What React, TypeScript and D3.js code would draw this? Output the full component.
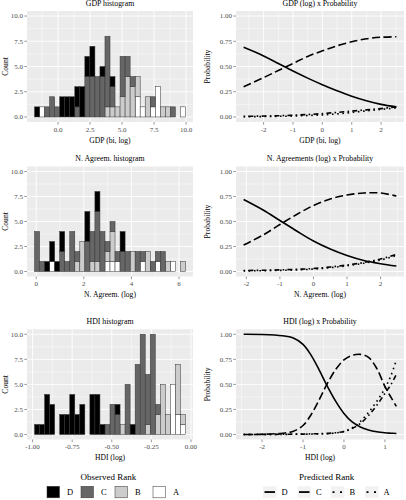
import * as d3 from "d3";

const rankNames = ["D", "C", "B", "A"];
const rankFills = ["#000000", "#666666", "#cccccc", "#ffffff"];
const rankDash = ["", "8 3.5", "1.6 3.2 5 3.2", "1.6 3.6"];

// stacked histograms, 30 bins each, counts per rank
const gdpBinStart = -1.835;
const gdpBinWidth = 0.3928;
const gdpCountD = [1, 0, 0, 0, 0, 2, 2, 2, 2, 3, 2, 3, 0, 1, 0, 1, 0, 0, 0, 0, 0, 0, 0, 0, 0, 0, 0, 0, 0, 0];
const gdpCountC = [0, 0, 1, 2, 1, 0, 0, 0, 1, 0, 4, 4, 4, 4, 7, 2, 0, 4, 2, 1, 0, 0, 0, 1, 0, 0, 0, 1, 0, 0];
const gdpCountB = [0, 0, 0, 0, 0, 0, 0, 0, 0, 0, 0, 0, 0, 0, 1, 1, 1, 2, 4, 3, 2, 0, 2, 0, 0, 1, 1, 0, 0, 0];
const gdpCountA = [0, 1, 0, 0, 0, 0, 0, 0, 0, 0, 0, 0, 0, 0, 0, 0, 0, 0, 0, 0, 2, 1, 0, 1, 3, 0, 0, 0, 0, 1];

const agrBinStart = -0.07;
const agrBinWidth = 0.2113;
const agrCountD = [0, 0, 1, 2, 1, 2, 0, 0, 0, 0, 3, 0, 2, 0, 0, 0, 0, 2, 0, 0, 0, 0, 0, 0, 0, 0, 0, 0, 0, 0];
const agrCountC = [4, 1, 0, 0, 0, 2, 1, 4, 1, 0, 3, 3, 5, 4, 1, 1, 1, 2, 2, 0, 2, 1, 0, 1, 1, 2, 0, 0, 0, 0];
const agrCountB = [0, 0, 0, 0, 0, 0, 0, 0, 1, 3, 0, 1, 1, 0, 1, 3, 0, 0, 0, 2, 0, 0, 2, 0, 0, 0, 1, 0, 0, 1];
const agrCountA = [0, 0, 0, 1, 0, 0, 0, 0, 0, 0, 0, 0, 0, 0, 1, 1, 1, 0, 0, 0, 0, 1, 0, 0, 1, 0, 0, 1, 0, 0];

const hdiBinStart = -0.9875;
const hdiBinWidth = 0.03175;
const hdiCountD = [1, 1, 4, 3, 0, 2, 2, 4, 2, 3, 0, 4, 4, 1, 0, 0, 1, 0, 0, 1, 0, 0, 0, 0, 0, 0, 0, 0, 0, 0];
const hdiCountC = [0, 0, 0, 0, 0, 0, 0, 0, 0, 0, 0, 0, 0, 0, 1, 3, 2, 0, 5, 0, 7, 10, 5, 10, 1, 0, 0, 0, 0, 0];
const hdiCountB = [0, 0, 0, 0, 0, 0, 0, 0, 0, 0, 0, 0, 0, 0, 0, 0, 0, 1, 0, 0, 0, 0, 1, 0, 2, 5, 2, 0, 5, 1];
const hdiCountA = [0, 0, 0, 0, 0, 0, 0, 0, 0, 0, 0, 0, 0, 0, 0, 0, 0, 0, 0, 0, 0, 0, 0, 0, 0, 0, 0, 5, 2, 1];

// predicted probability curves
const gdpCurveX = [-2.68, -2, -1.5, -1, -0.5, 0, 0.5, 1, 1.5, 2, 2.52];
const gdpProbD = [0.69, 0.605, 0.53, 0.455, 0.385, 0.32, 0.26, 0.205, 0.16, 0.125, 0.1];
const gdpProbC = [0.3, 0.39, 0.46, 0.53, 0.6, 0.655, 0.705, 0.745, 0.775, 0.79, 0.795];
const gdpProbB = [0.006, 0.009, 0.012, 0.017, 0.024, 0.033, 0.045, 0.058, 0.07, 0.083, 0.1];
const gdpProbA = [0.002, 0.004, 0.006, 0.009, 0.014, 0.02, 0.03, 0.045, 0.06, 0.075, 0.09];

const agrCurveX = [-2.08, -1.5, -1, -0.5, 0, 0.5, 1, 1.5, 2, 2.47];
const agrProbD = [0.72, 0.615, 0.51, 0.405, 0.305, 0.225, 0.16, 0.11, 0.078, 0.055];
const agrProbC = [0.265, 0.365, 0.47, 0.57, 0.66, 0.725, 0.765, 0.785, 0.785, 0.755];
const agrProbB = [0.01, 0.012, 0.016, 0.022, 0.03, 0.045, 0.065, 0.09, 0.125, 0.17];
const agrProbA = [0.006, 0.008, 0.011, 0.016, 0.024, 0.038, 0.057, 0.082, 0.115, 0.16];

const hdiCurveX = [-2.45, -2, -1.5, -1.25, -1, -0.8, -0.6, -0.43, -0.2, 0, 0.2, 0.4, 0.6, 0.8, 1, 1.15, 1.28];
const hdiProbD = [1, 0.998, 0.985, 0.965, 0.9, 0.79, 0.64, 0.5, 0.33, 0.21, 0.125, 0.075, 0.045, 0.027, 0.017, 0.013, 0.01];
const hdiProbC = [0, 0.002, 0.013, 0.03, 0.09, 0.2, 0.35, 0.49, 0.65, 0.745, 0.79, 0.8, 0.77, 0.66, 0.48, 0.37, 0.28];
const hdiProbB = [0, 0.001, 0.002, 0.003, 0.004, 0.006, 0.008, 0.01, 0.018, 0.03, 0.06, 0.11, 0.19, 0.29, 0.41, 0.5, 0.6];
const hdiProbA = [0, 0, 0.001, 0.002, 0.003, 0.004, 0.006, 0.008, 0.015, 0.03, 0.065, 0.13, 0.22, 0.33, 0.46, 0.59, 0.745];

// axis breaks
const countTicks = [0, 2.5, 5, 7.5, 10];
const countLabels = ["0.0", "2.5", "5.0", "7.5", "10.0"];
const probTicks = [0, 0.25, 0.5, 0.75, 1];
const probLabels = ["0.00", "0.25", "0.50", "0.75", "1.00"];
const gdpHistTicks = [0, 2.5, 5, 7.5, 10];
const gdpHistLabels = ["0.0", "2.5", "5.0", "7.5", "10.0"];
const agrHistTicks = [0, 2, 4, 6];
const agrHistLabels = ["0", "2", "4", "6"];
const hdiHistTicks = [-1, -0.75, -0.5, -0.25, 0];
const hdiHistLabels = ["-1.00", "-0.75", "-0.50", "-0.25", "0.00"];
const gdpCurveTicks = [-2, -1, 0, 1, 2];
const agrCurveTicks = [-2, -1, 0, 1, 2];
const hdiCurveTicks = [-2, -1, 0, 1];

const W = 406;
const H = 500;
const font = "'Liberation Serif', 'DejaVu Serif', serif";
const colX = [
  [27, 193],
  [236, 404],
];
const rowY = [
  [11, 122],
  [166.5, 276.5],
  [329.3, 439.5],
];

type Scale = d3.ScaleLinear<number, number>;

function expand(lo: number, hi: number): [number, number] {
  const d = (hi - lo) * 0.05;
  return [lo - d, hi + d];
}

function minorBreaks(major: number[], domain: number[]) {
  const step = major[1] - major[0];
  const out: number[] = [];
  let v = major[0] - step / 2;
  while (v - step >= domain[0]) v -= step;
  for (; v <= domain[1]; v += step) if (v >= domain[0]) out.push(v);
  return out;
}

interface PanelProps {
  col: number;
  row: number;
  xDomain: [number, number];
  yDomain: [number, number];
  xTicks: number[];
  xLabels: string[];
  yTicks: number[];
  yLabels: string[];
  title: string;
  xTitle: string;
  yTitle: string;
  draw: (x: Scale, y: Scale) => JSX.Element;
}

function Panel(p: PanelProps) {
  const [x0, x1] = colX[p.col];
  const [y0, y1] = rowY[p.row];
  const x = d3.scaleLinear().domain(p.xDomain).range([x0, x1]);
  const y = d3.scaleLinear().domain(p.yDomain).range([y1, y0]);
  const xMinor = minorBreaks(p.xTicks, p.xDomain);
  const yMinor = minorBreaks(p.yTicks, p.yDomain);
  const cx = (x0 + x1) / 2;
  const cy = (y0 + y1) / 2;
  const yTitleX = p.col === 0 ? 7.6 : 210;

  return (
    <g>
      <rect x={x0} y={y0} width={x1 - x0} height={y1 - y0} fill="#ebebeb" />
      {xMinor.map((v) => (
        <line key={"xm" + v} x1={x(v)} x2={x(v)} y1={y0} y2={y1} stroke="#fff" strokeWidth={0.45} />
      ))}
      {yMinor.map((v) => (
        <line key={"ym" + v} x1={x0} x2={x1} y1={y(v)} y2={y(v)} stroke="#fff" strokeWidth={0.45} />
      ))}
      {p.xTicks.map((v) => (
        <line key={"xM" + v} x1={x(v)} x2={x(v)} y1={y0} y2={y1} stroke="#fff" strokeWidth={0.9} />
      ))}
      {p.yTicks.map((v) => (
        <line key={"yM" + v} x1={x0} x2={x1} y1={y(v)} y2={y(v)} stroke="#fff" strokeWidth={0.9} />
      ))}
      {p.draw(x, y)}
      {p.xTicks.map((v, i) => (
        <g key={"xt" + v}>
          <line x1={x(v)} x2={x(v)} y1={y1} y2={y1 + 2.7} stroke="#333" strokeWidth={0.5} />
          <text x={x(v)} y={y1 + 9.5} textAnchor="middle" fontSize={7} fill="#4d4d4d">
            {p.xLabels[i]}
          </text>
        </g>
      ))}
      {p.yTicks.map((v, i) => (
        <g key={"yt" + v}>
          <line x1={x0 - 2.7} x2={x0} y1={y(v)} y2={y(v)} stroke="#333" strokeWidth={0.5} />
          <text x={x0 - 4} y={y(v) + 2.4} textAnchor="end" fontSize={7} fill="#4d4d4d">
            {p.yLabels[i]}
          </text>
        </g>
      ))}
      <text x={cx} y={y0 - 5.2} textAnchor="middle" fontSize={7.8}>
        {p.title}
      </text>
      <text x={cx} y={y1 + 20.5} textAnchor="middle" fontSize={7.6}>
        {p.xTitle}
      </text>
      <text
        transform={`translate(${yTitleX},${cy}) rotate(-90)`}
        textAnchor="middle"
        fontSize={7.6}
      >
        {p.yTitle}
      </text>
    </g>
  );
}

function histogram(start: number, width: number, counts: number[][]) {
  const rows = counts[0].map((_, i) => {
    const r: Record<string, number> = { i };
    rankNames.forEach((n, k) => (r[n] = counts[k][i]));
    return r;
  });
  const series = d3.stack<Record<string, number>>().keys(["A", "B", "C", "D"])(rows);
  const lo = start;
  const hi = start + width * counts[0].length;
  const draw = (x: Scale, y: Scale) => (
    <g>
      {series.map((s) =>
        s.map((d, i) =>
          d[1] > d[0] ? (
            <rect
              key={s.key + i}
              x={x(start + i * width)}
              width={x(start + (i + 1) * width) - x(start + i * width)}
              y={y(d[1])}
              height={y(d[0]) - y(d[1])}
              fill={rankFills[rankNames.indexOf(s.key)]}
              stroke="#333"
              strokeWidth={0.5}
            />
          ) : null
        )
      )}
    </g>
  );
  return { draw, xDomain: expand(lo, hi) };
}

function curves(xs: number[], probs: number[][]) {
  const draw = (x: Scale, y: Scale) => {
    const line = d3
      .line<[number, number]>()
      .x((d) => x(d[0]))
      .y((d) => y(d[1]))
      .curve(d3.curveCatmullRom.alpha(0.5));
    return (
      <g>
        {probs.map((ps, k) => (
          <path
            key={rankNames[k]}
            d={line(xs.map((v, i) => [v, ps[i]])) ?? ""}
            fill="none"
            stroke="#000"
            strokeWidth={1.6}
            strokeDasharray={rankDash[k] || undefined}
          />
        ))}
      </g>
    );
  };
  return { draw, xDomain: expand(xs[0], xs[xs.length - 1]) };
}

const countDomain = expand(0, 10);
const probDomain = expand(0, 1);

export default function App() {
  const gdpHist = histogram(gdpBinStart, gdpBinWidth, [gdpCountD, gdpCountC, gdpCountB, gdpCountA]);
  const agrHist = histogram(agrBinStart, agrBinWidth, [agrCountD, agrCountC, agrCountB, agrCountA]);
  const hdiHist = histogram(hdiBinStart, hdiBinWidth, [hdiCountD, hdiCountC, hdiCountB, hdiCountA]);
  const gdpProb = curves(gdpCurveX, [gdpProbD, gdpProbC, gdpProbB, gdpProbA]);
  const agrProb = curves(agrCurveX, [agrProbD, agrProbC, agrProbB, agrProbA]);
  const hdiProb = curves(hdiCurveX, [hdiProbD, hdiProbC, hdiProbB, hdiProbA]);

  const fillKeyX = [47, 81, 115, 153];
  const lineKeyX = [263, 297.5, 331, 365];
  const keyY = 486.3;

  return (
    <div>
      <style>{"body{margin:0}"}</style>
      <svg width={W} height={H} style={{ display: "block", fontFamily: font }}>
        <rect width={W} height={H} fill="#fff" />
        <Panel col={0} row={0} xDomain={gdpHist.xDomain} yDomain={countDomain} xTicks={gdpHistTicks} xLabels={gdpHistLabels} yTicks={countTicks} yLabels={countLabels} title="GDP histogram" xTitle="GDP (bi, log)" yTitle="Count" draw={gdpHist.draw} />
        <Panel col={1} row={0} xDomain={gdpProb.xDomain} yDomain={probDomain} xTicks={gdpCurveTicks} xLabels={gdpCurveTicks.map(String)} yTicks={probTicks} yLabels={probLabels} title="GDP (log) x Probability" xTitle="GDP (bi, log)" yTitle="Probability" draw={gdpProb.draw} />
        <Panel col={0} row={1} xDomain={agrHist.xDomain} yDomain={countDomain} xTicks={agrHistTicks} xLabels={agrHistLabels} yTicks={countTicks} yLabels={countLabels} title="N. Agreem. histogram" xTitle="N. Agreem. (log)" yTitle="Count" draw={agrHist.draw} />
        <Panel col={1} row={1} xDomain={agrProb.xDomain} yDomain={probDomain} xTicks={agrCurveTicks} xLabels={agrCurveTicks.map(String)} yTicks={probTicks} yLabels={probLabels} title="N. Agreements (log) x Probability" xTitle="N. Agreem. (log)" yTitle="Probability" draw={agrProb.draw} />
        <Panel col={0} row={2} xDomain={hdiHist.xDomain} yDomain={countDomain} xTicks={hdiHistTicks} xLabels={hdiHistLabels} yTicks={countTicks} yLabels={countLabels} title="HDI histogram" xTitle="HDI (log)" yTitle="Count" draw={hdiHist.draw} />
        <Panel col={1} row={2} xDomain={hdiProb.xDomain} yDomain={probDomain} xTicks={hdiCurveTicks} xLabels={hdiCurveTicks.map(String)} yTicks={probTicks} yLabels={probLabels} title="HDI (log) x Probability" xTitle="HDI (log)" yTitle="Probability" draw={hdiProb.draw} />

        {/* legends */}
        <text x={108.3} y={480} textAnchor="middle" fontSize={9}>
          Observed Rank
        </text>
        {rankNames.map((n, k) => (
          <g key={"f" + n}>
            <rect x={fillKeyX[k]} y={keyY} width={12.5} height={11.5} fill={rankFills[k]} stroke="#333" strokeWidth={0.5} />
            <text x={fillKeyX[k] + 20} y={keyY + 8.8} fontSize={8.5}>
              {n}
            </text>
          </g>
        ))}
        <text x={326.7} y={480} textAnchor="middle" fontSize={9}>
          Predicted Rank
        </text>
        {rankNames.map((n, k) => (
          <g key={"l" + n}>
            <rect x={lineKeyX[k]} y={keyY} width={13.5} height={11.5} fill="#f2f2f2" />
            <line
              x1={lineKeyX[k] + 1.5}
              x2={lineKeyX[k] + 12}
              y1={keyY + 5.75}
              y2={keyY + 5.75}
              stroke="#000"
              strokeWidth={1.8}
              strokeDasharray={k < 2 ? undefined : "2 5.5"}
            />
            <text x={lineKeyX[k] + 18.5} y={keyY + 8.8} fontSize={8.5}>
              {n}
            </text>
          </g>
        ))}
      </svg>
    </div>
  );
}
